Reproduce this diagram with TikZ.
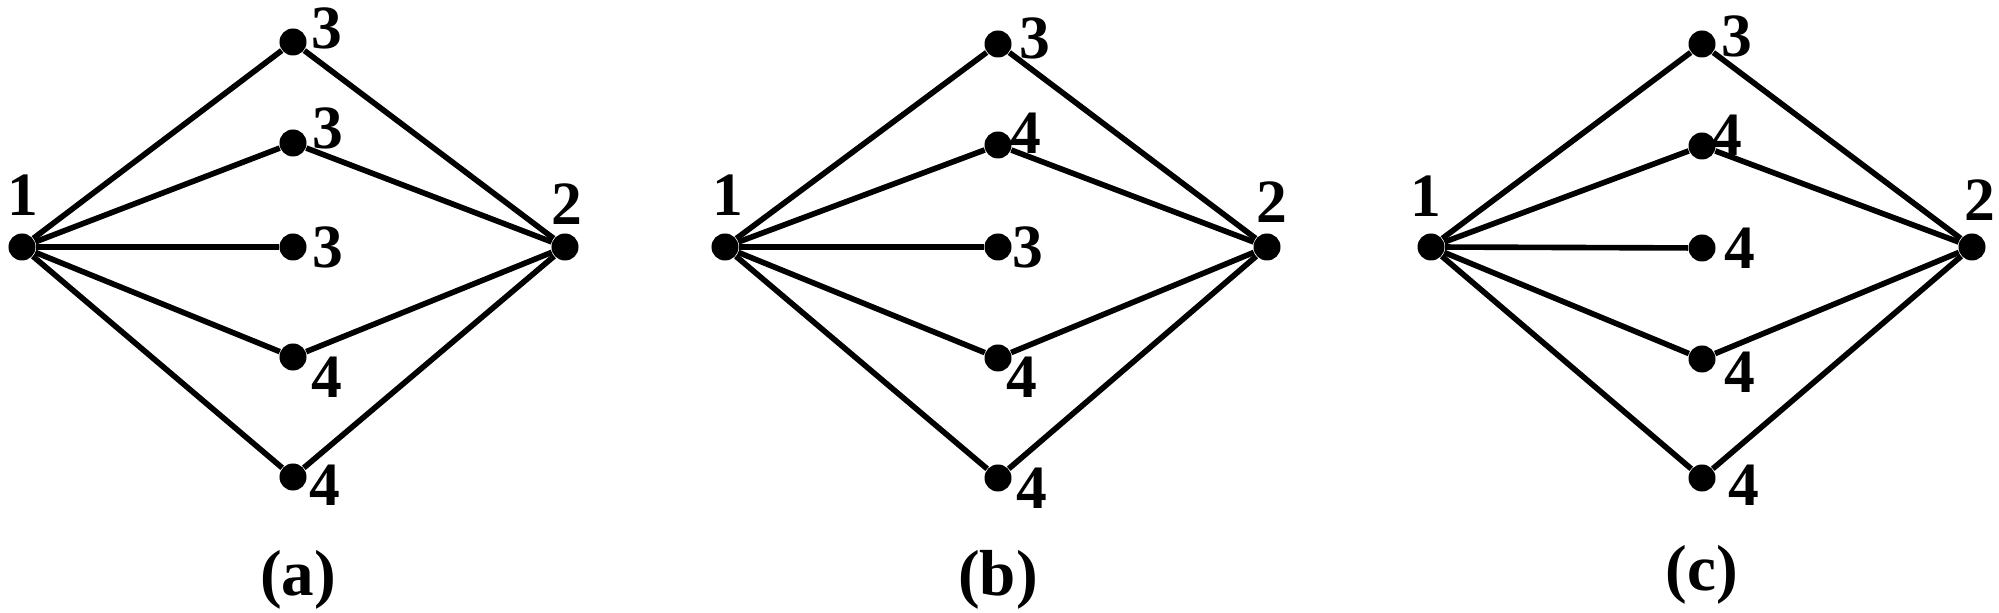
\documentclass[tikz,border=0pt]{standalone}
\usepackage{fontspec}
\setmainfont{Liberation Serif}
\begin{document}
\begin{tikzpicture}[x=0.01cm,y=-0.01cm,
  vtx/.style={circle,fill=black,inner sep=0pt,minimum size=0.27cm},
  edge/.style={line width=1.6pt},
  lab/.style={font=\fontsize{17.5}{20}\selectfont\bfseries,inner sep=0pt},
  captext/.style={font=\fontsize{18.5}{22}\selectfont\bfseries,inner sep=0pt}]
\useasboundingbox (0,0) rectangle (1999,613);

% ---------- panel (a)
\node[vtx] (a1) at (22,247) {};
\node[vtx] (a2) at (565,247) {};
\node[vtx] (a3) at (293,42) {};
\node[vtx] (a4) at (293,143) {};
\node[vtx] (a5) at (293,247) {};
\node[vtx] (a6) at (293,357) {};
\node[vtx] (a7) at (293,477) {};
\draw[edge] (a1) -- (a3) -- (a2);
\draw[edge] (a1) -- (a4) -- (a2);
\draw[edge] (a1) -- (a5);
\draw[edge] (a1) -- (a6) -- (a2);
\draw[edge] (a1) -- (a7) -- (a2);
\node[lab] (la1) at (23,195) {1};
\node[lab] (la2) at (567,204) {2};
\node[lab] (la3) at (327,28) {3};
\node[lab] (la4) at (328,128) {3};
\node[lab] (la5) at (328,247) {3};
\node[lab] (la6) at (327,377) {4};
\node[lab] (la7) at (325,485) {4};
\node[captext] (capa) at (298,580) {(a)};

% ---------- panel (b)
\node[vtx] (b1) at (725,247) {};
\node[vtx] (b2) at (1267,247) {};
\node[vtx] (b3) at (998,44) {};
\node[vtx] (b4) at (998,145) {};
\node[vtx] (b5) at (998,247) {};
\node[vtx] (b6) at (998,358) {};
\node[vtx] (b7) at (998,478) {};
\draw[edge] (b1) -- (b3) -- (b2);
\draw[edge] (b1) -- (b4) -- (b2);
\draw[edge] (b1) -- (b5);
\draw[edge] (b1) -- (b6) -- (b2);
\draw[edge] (b1) -- (b7) -- (b2);
\node[lab] (lb1) at (728,195) {1};
\node[lab] (lb2) at (1272,202) {2};
\node[lab] (lb3) at (1035,38) {3};
\node[lab] (lb4) at (1026,133) {4};
\node[lab] (lb5) at (1028,247) {3};
\node[lab] (lb6) at (1022,377) {4};
\node[lab] (lb7) at (1032,488) {4};
\node[captext] (capb) at (998,580) {(b)};

% ---------- panel (c)
\node[vtx] (c1) at (1431,247) {};
\node[vtx] (c2) at (1972,247) {};
\node[vtx] (c3) at (1702,44) {};
\node[vtx] (c4) at (1702,146) {};
\node[vtx] (c5) at (1702,248) {};
\node[vtx] (c6) at (1702,359) {};
\node[vtx] (c7) at (1702,478) {};
\draw[edge] (c1) -- (c3) -- (c2);
\draw[edge] (c1) -- (c4) -- (c2);
\draw[edge] (c1) -- (c5);
\draw[edge] (c1) -- (c6) -- (c2);
\draw[edge] (c1) -- (c7) -- (c2);
\node[lab] (lc1) at (1426,196) {1};
\node[lab] (lc2) at (1980,200) {2};
\node[lab] (lc3) at (1737,36) {3};
\node[lab] (lc4) at (1727,135) {4};
\node[lab] (lc5) at (1740,248) {4};
\node[lab] (lc6) at (1740,372) {4};
\node[lab] (lc7) at (1744,485) {4};
\node[captext] (capc) at (1702,575) {(c)};
\end{tikzpicture}
\end{document}
